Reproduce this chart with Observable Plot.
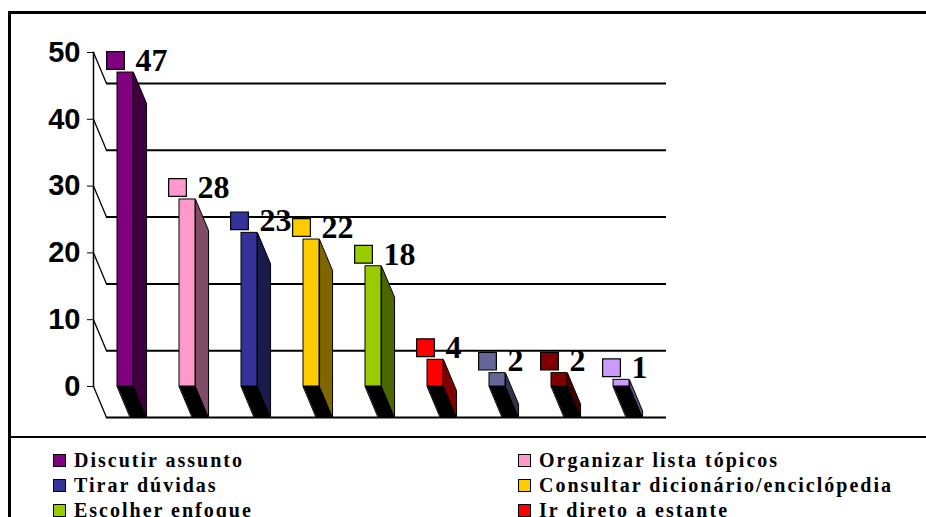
<!DOCTYPE html>
<html>
<head>
<meta charset="utf-8">
<script src="https://cdn.jsdelivr.net/npm/d3@7"></script>
<script src="https://cdn.jsdelivr.net/npm/@observablehq/plot@0.6"></script>
<style>
  body { margin: 0; background: #fff; }
  #wrap { position: relative; width: 926px; height: 517px; overflow: hidden; background: #fff; }
  #chart svg { display: block; }
  #border { position: absolute; left: 8px; top: 11px; width: 1000px; height: 700px;
            border-left: 3px solid #000; border-top: 3px solid #000; pointer-events: none; }
  #legend { position: absolute; left: 10px; top: 436px; width: 916px; height: 200px;
            border-top: 2px solid #000; box-sizing: border-box; padding: 10px 0 0 43px;
            display: grid; grid-template-columns: 465px auto; grid-auto-rows: 25px;
            font-family: "Liberation Serif", "Times New Roman", serif; font-weight: bold;
            font-size: 20px; letter-spacing: 2px; color: #000; }
  .item { display: flex; align-items: center; white-space: nowrap; }
  .sw { width: 11px; height: 11px; border: 1px solid #000; margin-right: 8px; flex: none; }
</style>
</head>
<body>
<div id="wrap">
  <div id="chart"></div>
  <div id="legend"></div>
  <div id="border"></div>
</div>
<script>
// ---- data ----
const categories = [
  "Discutir assunto",
  "Organizar lista tópicos",
  "Tirar dúvidas",
  "Consultar dicionário/enciclópedia",
  "Escolher enfoque",
  "Ir direto a estante",
  "Categoria 7",
  "Categoria 8",
  "Categoria 9"
];
const values = [47, 28, 23, 22, 18, 4, 2, 2, 1];
const yTicks = [0, 10, 20, 30, 40, 50];

// ---- palette ----
const frontColors = ["#800080", "#FF99CC", "#333399", "#FFCC00", "#99CC00", "#FF0000", "#666699", "#800000", "#CC99FF"];
const sideColors  = ["#400040", "#804C66", "#1A1A4D", "#806600", "#4C6600", "#800000", "#33334D", "#400000", "#664C80"];

const data = categories.map((c, i) => ({cat: c, value: values[i], front: frontColors[i], side: sideColors[i]}));

// ---- layout ----
const W = 926, H = 436, mT = 52, mB = 50, mL = 93, mR = 273;
const DX = 13, DY = 31;             // 3D depth offset (px)
const xr = [94, 652], padIn = 0.74;
const bw = (xr[1] - xr[0]) / categories.length * (1 - padIn);
const plotH = H - mT - mB;

const connShape = {draw(ctx) { ctx.moveTo(0, 0); ctx.lineTo(DX, DY); }};
const bottomShape = {draw(ctx) {
  ctx.moveTo(-bw / 2, 0); ctx.lineTo(bw / 2, 0); ctx.lineTo(bw / 2 + DX, DY); ctx.lineTo(-bw / 2 + DX, DY); ctx.closePath();
}};
const sideShape = {draw(ctx, l) {
  ctx.moveTo(bw / 2, 0); ctx.lineTo(bw / 2, -l); ctx.lineTo(bw / 2 + DX, -l + DY); ctx.lineTo(bw / 2 + DX, DY); ctx.closePath();
}};

const chart = Plot.plot({
  width: W, height: H,
  marginTop: mT, marginBottom: mB, marginLeft: mL, marginRight: mR,
  style: {background: "transparent"},
  x: {type: "band", domain: categories, range: xr, paddingInner: padIn, paddingOuter: padIn / 2, axis: null},
  y: {domain: [0, 50]},
  length: {type: "linear", domain: [0, 50], range: [0, plotH]},
  marks: [
    // back-wall gridlines
    Plot.ruleY(yTicks, {dx: DX, dy: DY, stroke: "#000", strokeWidth: 2}),
    // side-wall connectors
    Plot.vector(yTicks, {y: d => d, frameAnchor: "left", length: 1, anchor: "start", shape: connShape, stroke: "#000", strokeWidth: 1.3}),
    Plot.frame({anchor: "left", stroke: "#000", strokeWidth: 1.5}),
    Plot.axisY({ticks: yTicks, anchor: "left", label: null, tickSize: 6, tickPadding: 7,
      tickFormat: d => String(d), fontSize: 29, fontWeight: "bold", fontFamily: "Liberation Sans, Arial, sans-serif"}),
    // bar bottoms
    Plot.vector(data, {x: "cat", y: () => 0, length: 1, anchor: "start", shape: bottomShape, fill: "#000", stroke: "#000", strokeWidth: 1}),
    // bar sides
    Plot.vector(data, {x: "cat", y: () => 0, length: "value", anchor: "start", shape: sideShape, fill: "side", stroke: "#000", strokeWidth: 1}),
    // bar fronts
    Plot.barY(data, {x: "cat", y: "value", fill: "front", stroke: "#000", strokeWidth: 1}),
    // data labels
    Plot.dot(data, {x: "cat", y: "value", dx: -10, dy: -12, symbol: "square", r: 10, fill: "front", stroke: "#000", strokeWidth: 1.2}),
    Plot.text(data, {x: "cat", y: "value", dx: 10, dy: -12, text: d => String(d.value), textAnchor: "start",
      fontSize: 32, fontWeight: "bold", fontFamily: "Liberation Serif, Times New Roman, serif", fill: "#000"})
  ]
});
document.getElementById("chart").appendChild(chart);

// ---- legend ----
const legend = d3.select("#legend");
categories.forEach((c, i) => {
  const it = legend.append("div").attr("class", "item");
  it.append("span").attr("class", "sw").style("background", frontColors[i]);
  it.append("span").text(c);
});
</script>
</body>
</html>
